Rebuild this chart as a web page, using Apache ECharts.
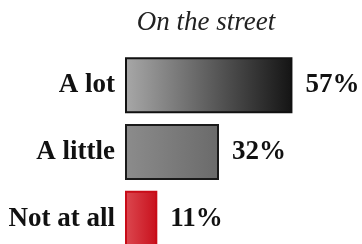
<!DOCTYPE html>
<html lang="en">
<head>
    <meta charset="UTF-8">
    <title>On the street</title>
    <script src="https://cdn.jsdelivr.net/npm/echarts@6/dist/echarts.min.js"></script>
    <style>
        * { margin: 0; padding: 0; }
        body { background: #fff; }
        #chart { width: 362px; height: 244px; }
    </style>
</head>
<body>
    <div id="chart"></div>
    <script type="text/javascript">
        // data
        var categories = ['A lot', 'A little', 'Not at all'];
        var values = [57, 32, 11];

        // fill for each bar: [left colour, right colour, border]
        var fills = [
            ['#a8a8a8', '#141414', '#111'],
            ['#8c8c8c', '#6a6a6a', '#1a1a1a'],
            ['#dc4850', '#c8101c', '#c80c18']
        ];

        var chart = echarts.init(document.getElementById('chart'));

        var barData = values.map(function (v, i) {
            return {
                value: v,
                itemStyle: {
                    color: new echarts.graphic.LinearGradient(0, 0, 1, 0, [
                        { offset: 0, color: fills[i][0] },
                        { offset: 1, color: fills[i][1] }
                    ]),
                    borderColor: fills[i][2],
                    borderWidth: 2
                }
            };
        });

        var option = {
            backgroundColor: '#fff',
            animation: false,
            title: {
                text: 'On the street',
                left: 201,
                textAlign: 'center',
                top: 4,
                textStyle: {
                    fontFamily: 'Liberation Serif',
                    fontStyle: 'italic',
                    fontWeight: 'normal',
                    fontSize: 27,
                    color: '#222'
                }
            },
            grid: {
                left: 125,
                right: 2,
                top: 52,
                height: 200,
                outerBoundsMode: 'none'
            },
            xAxis: {
                type: 'value',
                min: 0,
                max: 80,
                show: false
            },
            yAxis: {
                type: 'category',
                data: categories,
                inverse: true,
                axisLine: { show: false },
                axisTick: { show: false },
                axisLabel: {
                    margin: 10,
                    fontFamily: 'Liberation Serif',
                    fontWeight: 'bold',
                    fontSize: 27,
                    color: '#111'
                }
            },
            series: [{
                type: 'bar',
                data: barData,
                barWidth: 56,
                label: {
                    show: true,
                    position: 'right',
                    distance: 13,
                    formatter: '{c}%',
                    fontFamily: 'Liberation Serif',
                    fontWeight: 'bold',
                    fontSize: 27,
                    color: '#111'
                }
            }]
        };

        chart.setOption(option);
    </script>
</body>
</html>
